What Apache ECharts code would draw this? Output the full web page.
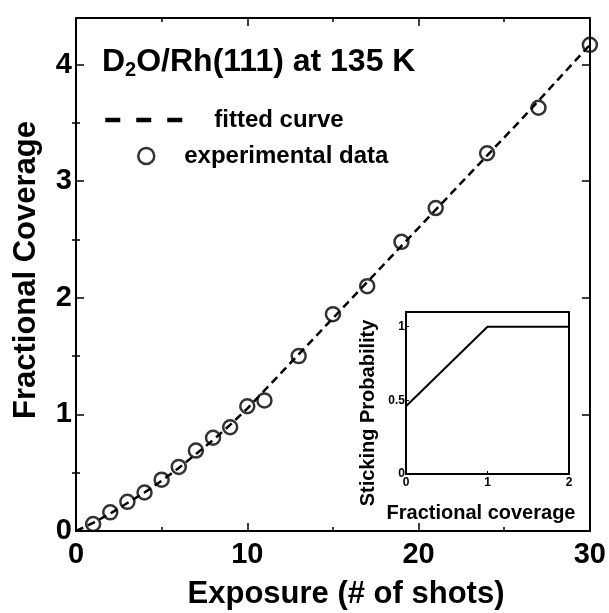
<!DOCTYPE html>
<html><head><meta charset="utf-8">
<script src="https://cdn.jsdelivr.net/npm/echarts@6/dist/echarts.min.js"></script>
<style>html,body{margin:0;padding:0;background:#fff}#c{width:609px;height:613px}</style>
</head><body><div id="c"></div>
<script>
// ---- data ----
const exposure = [1, 2, 3, 4, 5, 6, 7, 8, 9, 10, 11, 13, 15, 17, 19, 21, 24, 27, 30];
const coverage = [0.06, 0.16, 0.25, 0.33, 0.44, 0.55, 0.69, 0.80, 0.89, 1.07, 1.12, 1.50, 1.86, 2.10, 2.48, 2.77, 3.24, 3.63, 4.17];
const fitX = [0, 1, 2, 3, 4, 5, 6, 7, 8, 9, 10, 12, 14, 16, 18, 20, 22, 24, 26, 28, 30];
const fitY = [0, 0.07, 0.15, 0.24, 0.33, 0.43, 0.54, 0.66, 0.78, 0.91, 1.05, 1.36, 1.67, 1.98, 2.29, 2.60, 2.91, 3.22, 3.53, 3.85, 4.17];
const insetX = [0, 1, 2];
const insetY = [0.46, 1, 1];
const mainYMajor = [0, 1, 2, 3, 4];
const mainYMinor = [0.5, 1.5, 2.5, 3.5];
const insetXLabels = [0, 1, 2];
const insetYLabels = [0, 0.5, 1];

const F = '"Liberation Sans", Arial, Helvetica, sans-serif';
const K = '#000';
const chart = echarts.init(document.getElementById('c'), null, {renderer: 'canvas'});

const line2 = {onZero: false, lineStyle: {color: K, width: 2}};
const noLine = {show: false};
function xAx(grid, pos, labels) {
  return {
    gridIndex: grid, type: 'value', position: pos, min: 0, max: 30, interval: 10,
    axisLine: line2, splitLine: {show: false},
    axisTick: {inside: true, length: 8, lineStyle: {color: K, width: 1.5}},
    minorTick: {show: true, splitNumber: 2, length: 4, lineStyle: {color: K, width: 1.5}},
    axisLabel: labels ? {fontSize: 29, fontWeight: 'bold', color: K, fontFamily: F, margin: 9} : {show: false}
  };
}
function yAx(pos, vals, len, showLine, labels) {
  return {
    gridIndex: 0, type: 'value', position: pos, min: 0, max: 4.4,
    axisLine: showLine ? line2 : noLine, splitLine: {show: false},
    axisTick: {inside: true, length: len, customValues: vals, lineStyle: {color: K, width: 1.5}},
    axisLabel: labels ? {customValues: vals, fontSize: 29, fontWeight: 'bold', color: K, fontFamily: F, margin: 4} : {show: false}
  };
}
const insetLabel = {fontSize: 12, fontWeight: 'bold', color: K, fontFamily: F};

const option = {
  backgroundColor: '#fff',
  animation: false,
  grid: [
    {left: 76, right: 18, top: 18, bottom: 82},
    {left: 406, right: 40, top: 312, bottom: 139}
  ],
  xAxis: [
    xAx(0, 'bottom', true),
    xAx(0, 'top', false),
    {gridIndex: 1, type: 'value', position: 'bottom', min: 0, max: 2, interval: 1,
     axisLine: line2, splitLine: {show: false},
     axisTick: {inside: true, length: 3, lineStyle: {color: K, width: 1}},
     axisLabel: Object.assign({margin: 3, customValues: insetXLabels}, insetLabel)},
    {gridIndex: 1, type: 'value', position: 'top', min: 0, max: 2, interval: 1,
     axisLine: line2, splitLine: {show: false}, axisTick: {show: false}, axisLabel: {show: false}}
  ],
  yAxis: [
    yAx('left', mainYMajor, 8, true, true),
    yAx('left', mainYMinor, 4, false, false),
    yAx('right', mainYMajor, 8, true, false),
    yAx('right', mainYMinor, 4, false, false),
    {gridIndex: 1, type: 'value', position: 'left', min: 0, max: 1.1,
     axisLine: line2, splitLine: {show: false},
     axisTick: {inside: true, length: 3, customValues: insetYLabels, lineStyle: {color: K, width: 1}},
     axisLabel: Object.assign({margin: 1, customValues: insetYLabels}, insetLabel)},
    {gridIndex: 1, type: 'value', position: 'right', min: 0, max: 1.1,
     axisLine: line2, splitLine: {show: false}, axisTick: {show: false}, axisLabel: {show: false}}
  ],
  legend: [
    {data: ['fitted curve'], left: 103, top: 107, padding: 0, itemWidth: 78, itemHeight: 14, selectedMode: false,
     lineStyle: {type: [15, 16], width: 4.5, color: K},
     itemStyle: {opacity: 0},
     textStyle: {fontSize: 24, fontWeight: 'bold', fontFamily: F, color: K, lineHeight: 26, padding: [0, 0, 0, 26]}},
    {data: ['experimental data'], left: 137, top: 143, padding: 0, itemWidth: 16, itemHeight: 16, selectedMode: false,
     itemStyle: {color: 'rgba(0,0,0,0)', borderColor: K, borderWidth: 2.5},
     textStyle: {fontSize: 24, fontWeight: 'bold', fontFamily: F, color: K, lineHeight: 26, padding: [0, 0, 0, 25]}}
  ],
  series: [
    {name: 'fitted curve', type: 'line', xAxisIndex: 0, yAxisIndex: 0, symbol: 'none', z: 2,
     data: fitX.map((x, i) => [x, fitY[i]]),
     lineStyle: {color: K, width: 2.5, type: [8, 5]}},
    {name: 'experimental data', type: 'scatter', xAxisIndex: 0, yAxisIndex: 0, symbol: 'circle', symbolSize: 14, z: 3,
     data: exposure.map((x, i) => [x, coverage[i]]),
     itemStyle: {color: 'rgba(0,0,0,0)', borderColor: K, borderWidth: 2.5}},
    {name: 'sticking', type: 'line', xAxisIndex: 2, yAxisIndex: 4, symbol: 'none',
     data: insetX.map((x, i) => [x, insetY[i]]),
     lineStyle: {color: K, width: 2}}
  ],
  graphic: [
    {type: 'text', x: 102, y: 62, style: {
      text: '{a|D}{s|2}{a|O/Rh(111) at 135 K}', fontFamily: F, fontWeight: 'bold', fill: K, verticalAlign: 'middle',
      rich: {a: {fontSize: 32, lineHeight: 37, fontFamily: F, fontWeight: 'bold', verticalAlign: 'middle'},
             s: {fontSize: 20, lineHeight: 20, fontFamily: F, fontWeight: 'bold', verticalAlign: 'bottom'}}}},
    {type: 'text', x: 26, y: 270, rotation: Math.PI / 2, style: {
      text: 'Fractional Coverage', fontSize: 31, fontWeight: 'bold', fontFamily: F, fill: K, align: 'center', verticalAlign: 'middle'}},
    {type: 'text', x: 346, y: 594, style: {
      text: 'Exposure (# of shots)', fontSize: 31, fontWeight: 'bold', fontFamily: F, fill: K, align: 'center', verticalAlign: 'middle'}},
    {type: 'text', x: 368, y: 413, rotation: Math.PI / 2, style: {
      text: 'Sticking Probability', fontSize: 20, fontWeight: 'bold', fontFamily: F, fill: K, align: 'center', verticalAlign: 'middle'}},
    {type: 'text', x: 481, y: 513, style: {
      text: 'Fractional coverage', fontSize: 20, fontWeight: 'bold', fontFamily: F, fill: K, align: 'center', verticalAlign: 'middle'}}
  ]
};
chart.setOption(option);
</script>
</body></html>
